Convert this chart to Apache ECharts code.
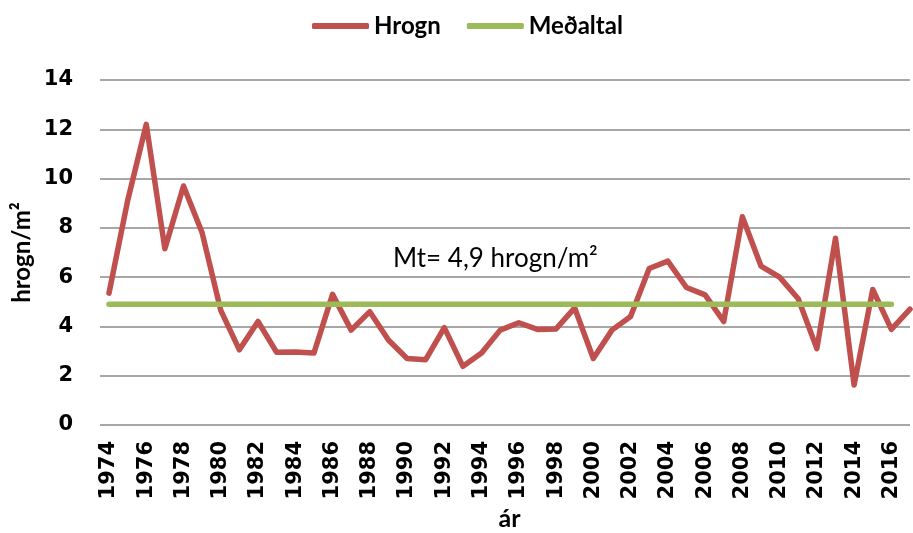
<!DOCTYPE html>
<html>
<head>
<meta charset="utf-8">
<script src="https://cdn.jsdelivr.net/npm/echarts@6/dist/echarts.min.js"></script>
<style>
  html, body { margin: 0; padding: 0; background: #fff; }
  #chart { width: 913px; height: 533px; }
</style>
</head>
<body>
<div id="chart"></div>
<script>
// ár (x flokkar)
var years = ['1974', '1975', '1976', '1977', '1978', '1979', '1980', '1981', '1982', '1983',
  '1984', '1985', '1986', '1987', '1988', '1989', '1990', '1991', '1992', '1993',
  '1994', '1995', '1996', '1997', '1998', '1999', '2000', '2001', '2002', '2003',
  '2004', '2005', '2006', '2007', '2008', '2009', '2010', '2011', '2012', '2013',
  '2014', '2015', '2016', '2017'];

// hrogn/m2 hvert ár
var hrogn = [5.35, 9.1, 12.2, 7.15, 9.7, 7.8, 4.65, 3.05, 4.2, 2.95,
  2.96, 2.92, 5.3, 3.85, 4.6, 3.45, 2.7, 2.65, 3.95, 2.38,
  2.92, 3.85, 4.15, 3.88, 3.9, 4.75, 2.7, 3.85, 4.4, 6.35,
  6.65, 5.58, 5.28, 4.2, 8.45, 6.45, 6.0, 5.12, 3.1, 7.58,
  1.62, 5.5, 3.88, 4.7];

// meðaltal 1974-2016
var meanYears = ['1974', '2016'];
var meanValue = 4.9;

var yTicks = { min: 0, max: 14, interval: 2 };

var chart = echarts.init(document.getElementById('chart'));

var calibriLike = "Lato, 'Open Sans', sans-serif";
var numFont = "'DejaVu Sans', Verdana, sans-serif";

var option = {
  animation: false,
  legend: {
    left: 307,
    top: 9,
    icon: 'roundRect',
    itemWidth: 57,
    itemHeight: 6,
    itemGap: 26,
    textStyle: { fontFamily: calibriLike, fontWeight: 'bold', fontSize: 24, color: '#000' },
    data: ['Hrogn', 'Meðaltal']
  },
  grid: { left: 109, right: 3, top: 80, bottom: 108, outerBoundsMode: 'none', containLabel: false },
  xAxis: {
    type: 'category',
    boundaryGap: false,
    data: years,
    name: 'ár',
    nameLocation: 'middle',
    nameGap: 81,
    nameMoveOverlap: false,
    nameTextStyle: { fontFamily: calibriLike, fontWeight: 'bold', fontSize: 25, color: '#000' },
    axisLine: { show: false },
    axisTick: { show: false },
    axisLabel: {
      interval: 1,
      rotate: 90,
      margin: 16,
      fontFamily: numFont,
      fontWeight: 'bold',
      fontSize: 21,
      color: '#000'
    }
  },
  yAxis: {
    type: 'value',
    min: yTicks.min,
    max: yTicks.max,
    interval: yTicks.interval,
    name: 'hrogn/m²',
    nameLocation: 'middle',
    nameGap: 75,
    nameRotate: 90,
    nameMoveOverlap: false,
    nameTextStyle: { fontFamily: calibriLike, fontWeight: 'bold', fontSize: 24, color: '#000' },
    axisLine: { show: false },
    axisTick: { show: true, length: 9, lineStyle: { color: '#8a8a8a', width: 1.5 } },
    axisLabel: {
      margin: 36,
      fontFamily: numFont,
      fontWeight: 'bold',
      fontSize: 21,
      color: '#000'
    },
    splitLine: { lineStyle: { color: '#8a8a8a', width: 1.5 } }
  },
  series: [
    {
      name: 'Hrogn',
      type: 'line',
      showSymbol: false,
      symbol: 'none',
      color: '#C0504D',
      lineStyle: { color: '#C0504D', width: 5.5, cap: 'round', join: 'round' },
      data: hrogn,
      z: 3
    },
    {
      name: 'Meðaltal',
      type: 'line',
      showSymbol: false,
      symbol: 'none',
      color: '#9BBB59',
      lineStyle: { color: '#9BBB59', width: 5.5, cap: 'round' },
      data: meanYears.map(function (y) { return [y, meanValue]; }),
      z: 4
    }
  ],
  graphic: [
    {
      type: 'text',
      left: 393,
      top: 246,
      style: {
        text: 'Mt= 4,9 hrogn/m²',
        fontFamily: calibriLike,
        fontSize: 26,
        fill: '#000'
      }
    }
  ]
};

chart.setOption(option);
</script>
</body>
</html>
